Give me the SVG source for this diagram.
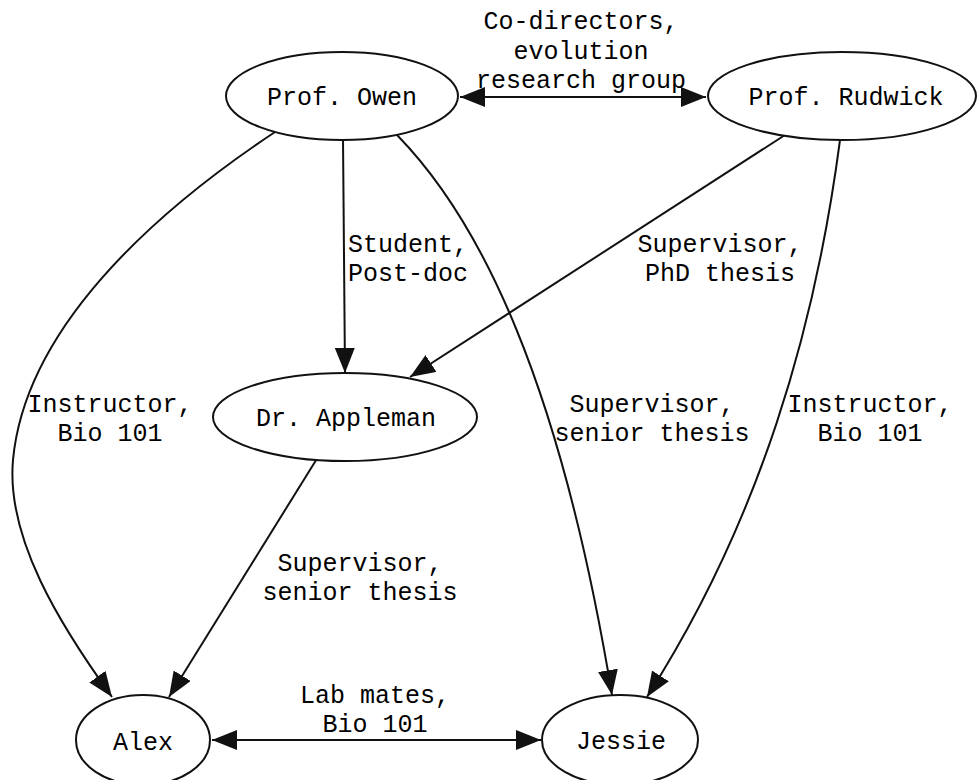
<svg xmlns="http://www.w3.org/2000/svg" width="977" height="780" viewBox="0 0 977 780">
<style>
  text { font-family: "Liberation Mono", "Courier New", monospace; font-size: 25px; fill: #000; }
  .c { text-anchor: middle; }
  .node ellipse { fill: #fff; stroke: #111; stroke-width: 2; }
  .edges path { fill: none; stroke: #111; stroke-width: 2; }
</style>
<defs>
  <marker id="ah" markerUnits="userSpaceOnUse" markerWidth="27" markerHeight="22" refX="25" refY="10" orient="auto-start-reverse" viewBox="0 0 27 22">
    <path d="M0,0 L25,10 L0,20 z" fill="#111"/>
  </marker>
</defs>
<rect width="977" height="780" fill="#fff"/>
<g class="edges">
  <path d="M460,97 L706,97" marker-start="url(#ah)" marker-end="url(#ah)"/>
  <path d="M343,138 L345,373" marker-end="url(#ah)"/>
  <path d="M785,135 L410,377" marker-end="url(#ah)"/>
  <path d="M275,132 C150,215 25,330 13,460 C6,538 60,625 112,697" marker-end="url(#ah)"/>
  <path d="M397,135 C480,220 560,380 612,695" marker-end="url(#ah)"/>
  <path d="M840,140 C815,330 760,520 647,697" marker-end="url(#ah)"/>
  <path d="M318,457 L169,697" marker-end="url(#ah)"/>
  <path d="M212,740 L541,740" marker-start="url(#ah)" marker-end="url(#ah)"/>
</g>
<g id="owen" class="node"><ellipse cx="342" cy="96" rx="116" ry="44"/><text class="c" x="342" y="105">Prof. Owen</text></g>
<g id="rudwick" class="node"><ellipse cx="842" cy="96" rx="134" ry="44"/><text class="c" x="846" y="105">Prof. Rudwick</text></g>
<g id="appleman" class="node"><ellipse cx="345" cy="417" rx="132" ry="44"/><text class="c" x="346" y="426">Dr. Appleman</text></g>
<g id="alex" class="node"><ellipse cx="143" cy="740" rx="67" ry="45"/><text class="c" x="143" y="750">Alex</text></g>
<g id="jessie" class="node"><ellipse cx="620" cy="740" rx="78" ry="45"/><text class="c" x="621" y="749">Jessie</text></g>
<g id="labels">
  <text class="c" x="581" y="29">Co-directors,</text>
  <text class="c" x="581" y="59">evolution</text>
  <text class="c" x="581" y="88">research group</text>
  <text x="348" y="252">Student,</text>
  <text x="348" y="281">Post-doc</text>
  <text class="c" x="720" y="252">Supervisor,</text>
  <text class="c" x="720" y="281">PhD thesis</text>
  <text class="c" x="110" y="412">Instructor,</text>
  <text class="c" x="110" y="441">Bio 101</text>
  <text class="c" x="652" y="412">Supervisor,</text>
  <text class="c" x="652" y="441">senior thesis</text>
  <text class="c" x="870" y="412">Instructor,</text>
  <text class="c" x="870" y="441">Bio 101</text>
  <text class="c" x="360" y="571">Supervisor,</text>
  <text class="c" x="360" y="600">senior thesis</text>
  <text class="c" x="375" y="703">Lab mates,</text>
  <text class="c" x="375" y="732">Bio 101</text>
</g>
</svg>
